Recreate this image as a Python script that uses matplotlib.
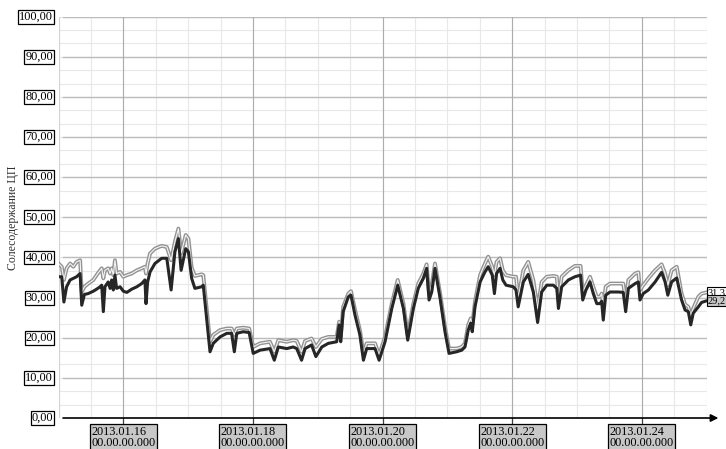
import numpy as np
import pandas as pd
import matplotlib
matplotlib.use("Agg")
import matplotlib.pyplot as plt

# hours since 2013.01.15 00:00
hours = [0, 1.2, 2.0, 3.0, 4.3, 5.5, 6.7, 8.0, 8.6, 9.6, 11.0, 12.9, 14.1, 15.4, 16.0,
         16.6, 17.2, 18.4, 19.1, 19.7, 20.3, 20.9, 21.5, 22.8, 24.0, 25.3, 27.1, 29.0,
         30.8, 32.0, 32.4, 33.0, 33.9, 35.7, 38.2, 40.1, 41.7, 43.1, 44.4, 45.4, 47.1,
         48.1, 49.3, 50.5, 53.0, 53.6, 56.1, 57.3, 59.8, 62.3, 64.1, 65.1, 66.0, 68.4,
         70.6, 72.1, 74.6, 78.3, 79.9, 81.4, 84.5, 86.9, 88.2, 90.0, 91.3, 93.7, 95.3,
         97.5, 99.9, 103.0, 103.9, 104.5, 105.4, 107.3, 108.3, 109.8, 111.6, 112.9,
         114.1, 117.2, 118.7, 120.9, 123.4, 125.6, 127.7, 129.3, 131.4, 133.2, 135.1,
         136.3, 137.2, 138.2, 139.4, 141.3, 143.1, 144.6, 147.4, 149.3, 150.5, 151.7,
         152.6, 153.2, 154.2, 156.1, 157.9, 159.1, 160.6, 161.4, 162.2, 163.5, 164.5,
         165.7, 168.4, 169.4, 170.2, 172.1, 173.9, 175.8, 177.4, 178.9, 180.8, 183.2,
         184.5, 185.1, 186.3, 188.8, 191.2, 193.3, 194.1, 195.3, 196.8, 198.0, 199.3,
         200.5, 201.1, 201.7, 202.6, 204.2, 207.3, 209.1, 210.0, 211.0, 213.5, 214.7,
         215.3, 216.5, 218.4, 220.9, 223.3, 224.6, 225.6, 227.0, 228.9, 230.7, 232.0,
         233.2, 234.1, 235.0, 236.9, 238.1, 240.0]

salt_lower = [35.2, 35.2, 28.9, 32.7, 34.4, 34.8, 35.2, 36.0, 28.1, 30.8, 31.0, 31.6, 32.1,
              32.7, 33.1, 26.5, 32.7, 33.9, 32.3, 34.4, 31.9, 35.6, 32.3, 32.7, 31.6, 31.3,
              32.1, 32.7, 33.5, 34.4, 28.5, 33.9, 36.4, 38.5, 39.8, 39.8, 31.9, 41.4, 44.7,
              36.8, 42.2, 41.4, 34.8, 32.3, 32.7, 33.1, 16.5, 18.6, 20.2, 21.1, 21.1, 16.5,
              21.1, 21.5, 21.3, 16.1, 16.9, 17.3, 14.4, 17.7, 17.3, 17.7, 17.3, 14.4, 17.3,
              18.2, 15.3, 17.7, 18.6, 19.0, 23.2, 19.0, 26.5, 30.2, 30.6, 25.6, 20.7, 14.4,
              17.3, 17.3, 14.4, 19.0, 27.3, 33.1, 27.3, 19.4, 27.3, 32.3, 34.8, 37.3, 29.4,
              31.4, 37.3, 29.8, 21.5, 16.1, 16.5, 16.9, 17.7, 21.9, 23.6, 21.5, 27.7, 33.9,
              36.4, 37.7, 35.6, 31.0, 36.0, 37.3, 34.4, 33.1, 32.7, 31.9, 27.7, 33.9, 35.8,
              31.4, 23.8, 31.4, 33.1, 33.1, 32.3, 27.3, 32.7, 34.4, 35.2, 35.6, 29.4, 31.9,
              33.9, 31.0, 28.5, 28.5, 29.1, 24.4, 30.6, 31.4, 31.4, 31.3, 26.5, 32.3, 33.5,
              33.9, 29.4, 31.0, 31.9, 33.9, 36.3, 33.9, 30.6, 33.9, 34.9, 29.4, 26.9, 26.5,
              23.2, 26.1, 27.7, 28.8, 29.2]

salt_upper = [38.5, 37.7, 34.4, 37.3, 38.5, 37.7, 38.9, 39.3, 31.4, 32.7, 33.5, 34.4, 35.6,
              36.8, 37.3, 34.8, 36.8, 37.3, 36.0, 37.3, 35.6, 39.3, 36.0, 36.4, 35.2, 35.6,
              36.0, 36.8, 37.3, 37.7, 36.0, 38.5, 41.0, 42.2, 42.9, 42.6, 39.3, 43.9, 47.2,
              41.0, 45.6, 44.7, 37.5, 35.4, 35.8, 35.6, 19.0, 20.7, 21.9, 22.3, 22.3, 20.7,
              22.3, 22.5, 22.3, 17.7, 18.6, 19.0, 16.5, 19.4, 19.0, 19.4, 19.2, 16.5, 19.2,
              19.8, 17.7, 19.7, 20.2, 20.2, 24.0, 20.2, 27.7, 31.0, 31.6, 26.9, 21.9, 16.1,
              18.6, 18.6, 15.7, 20.2, 28.5, 34.4, 28.5, 20.7, 28.5, 33.5, 36.0, 38.3, 31.0,
              33.1, 38.5, 31.0, 22.7, 17.3, 17.3, 17.7, 18.6, 23.2, 24.8, 23.2, 29.0, 35.6,
              38.5, 40.2, 37.7, 35.6, 38.9, 39.8, 36.8, 35.6, 35.2, 35.2, 29.8, 36.8, 38.9,
              34.4, 27.3, 33.9, 35.2, 35.4, 35.2, 29.4, 35.2, 36.8, 37.9, 37.9, 31.4, 33.1,
              35.2, 32.7, 30.2, 30.2, 31.0, 27.7, 32.7, 33.5, 33.5, 33.5, 29.0, 34.4, 36.0,
              36.3, 31.9, 33.1, 34.8, 36.8, 38.3, 36.0, 33.1, 36.8, 37.7, 31.0, 28.3, 27.7,
              25.6, 27.3, 30.2, 31.0, 31.3]

tick_days = ["2013-01-16", "2013-01-18", "2013-01-20", "2013-01-22", "2013-01-24"]
y_major = np.arange(0, 101, 10)

start = pd.Timestamp("2013-01-15")
end = pd.Timestamp("2013-01-25")
t = start + pd.to_timedelta(hours, unit="h")

plt.rcParams["font.family"] = ["Liberation Serif", "DejaVu Serif"]

W, H = 726, 449
x0, x1, y0, y1 = 58.5, 706.7, 418.0, 16.7
fig = plt.figure(figsize=(W / 100, H / 100), dpi=100)
ax = fig.add_axes([x0 / W, 1 - y0 / H, (x1 - x0) / W, (y0 - y1) / H])
ax.set_xlim(start, end)
ax.set_ylim(0, 100)
for s in ax.spines.values():
    s.set_visible(False)
ax.set_xticks([])
ax.set_yticks([])

# light grid: every 1/3 of a major step horizontally, every 12 hours vertically
for v in np.arange(0, 100.01, 10 / 3):
    ax.axhline(v, color="#e8e8e8", lw=0.8, zorder=0)
for tt in pd.date_range(start, end, freq="12h"):
    ax.axvline(tt, color="#e8e8e8", lw=0.8, zorder=0)
ax.axvline(start, color="#d4d4d4", lw=0.8, zorder=0)

# darker grid at the labelled values
for v in y_major[1:]:
    ax.axhline(v, xmin=0.007, color="#bcbcbc", lw=1.0, zorder=1)
for d in tick_days:
    ax.axvline(pd.Timestamp(d), color="#acacac", lw=0.8, zorder=1)
    ax.plot([pd.Timestamp(d)] * 2, [0, -1.2], color="#404040", lw=0.9, clip_on=False)

# x axis with arrow
ax.annotate("", xy=(1.018, 0), xytext=(0.007, 0), xycoords="axes fraction",
            arrowprops=dict(arrowstyle="-|>", color="black", lw=1.2, mutation_scale=11,
                            shrinkA=0, shrinkB=0), annotation_clip=False)

# series
ax.plot(t, salt_upper, color="#939393", lw=2.8, zorder=3)
ax.plot(t, salt_upper, color="#f4f4f4", lw=0.8, zorder=3)
ax.plot(t, salt_lower, color="#262626", lw=2.2, zorder=4)

# y tick labels in boxes
for v in y_major:
    ax.text(-0.0085, v, f"{v:.2f}".replace(".", ","), transform=ax.get_yaxis_transform(),
            ha="right", va="center", fontsize=8.8, color="black", clip_on=False,
            bbox=dict(boxstyle="square,pad=0.08", fc="white", ec="black", lw=0.9))

# date labels
for d in tick_days:
    ts = pd.Timestamp(d)
    ax.text(ts, -1.9, ts.strftime("%Y.%m.%d") + "\n00.00.00.000", ha="center", va="top",
            multialignment="left", fontsize=8.8, linespacing=0.95, clip_on=False,
            bbox=dict(boxstyle="square,pad=0.12", fc="#c8c8c8", ec="black", lw=0.9))

# last values at the right edge
ax.text(1.002, salt_upper[-1], f"{salt_upper[-1]:.1f}".replace(".", ","),
        transform=ax.get_yaxis_transform(), ha="left", va="center", fontsize=7.5,
        clip_on=False, bbox=dict(boxstyle="square,pad=0.08", fc="white", ec="black", lw=0.8))
ax.text(1.002, salt_lower[-1], f"{salt_lower[-1]:.1f}".replace(".", ","),
        transform=ax.get_yaxis_transform(), ha="left", va="center", fontsize=7.5,
        clip_on=False, bbox=dict(boxstyle="square,pad=0.08", fc="#c8c8c8", ec="black", lw=0.8))

fig.text(13.5 / W, 1 - 218 / H, "Солесодержание ЦП", rotation=90, ha="center", va="center",
         fontsize=8.5, color="#303030")

fig.savefig("out.png", dpi=100, facecolor="white")
